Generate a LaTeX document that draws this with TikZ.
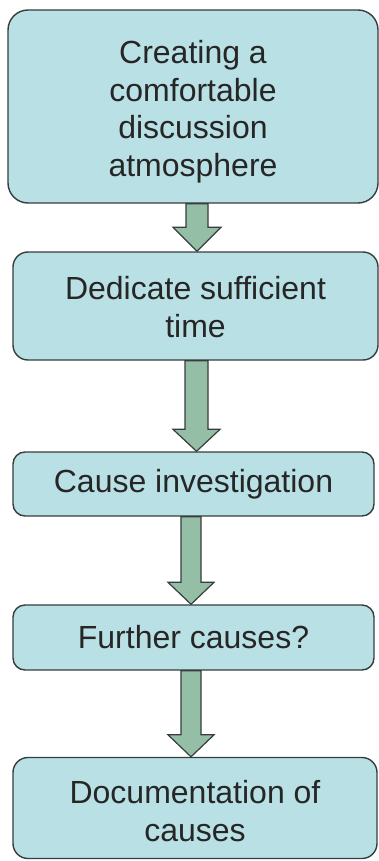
\documentclass[tikz,border=0pt]{standalone}
\usepackage{fontspec}
\setmainfont{Liberation Sans}
\usetikzlibrary{calc}
\definecolor{boxfill}{RGB}{185,224,228}
\definecolor{arrfill}{RGB}{148,190,166}
\definecolor{edge}{RGB}{55,60,60}
\tikzset{
  stepbox/.style={draw=edge, line width=1.4pt, fill=boxfill, rectangle, inner sep=0pt},
  steptext/.style={align=center, inner sep=0pt, font=\fontsize{32}{37.5}\selectfont, text=black!85},
  barrow/.style={draw=edge, line width=1.2pt, fill=arrfill, line join=miter}
}
\newcommand{\blockarrow}[6]{% from, to, x center, shaft half, head half, head length
  \draw[barrow] let \p1=(#1.south), \p2=(#2.north) in
    ({#3pt-#4pt},\y1) -- ({#3pt+#4pt},\y1) -- ({#3pt+#4pt},{\y2+#6pt}) --
    ({#3pt+#5pt},{\y2+#6pt}) -- ({#3pt},\y2) -- ({#3pt-#5pt},{\y2+#6pt}) --
    ({#3pt-#4pt},{\y2+#6pt}) -- cycle;}
\begin{document}
\begin{tikzpicture}[x=1pt,y=1pt]
\useasboundingbox (0,0) rectangle (379,-861);
\node[stepbox, minimum width=370pt, minimum height=193pt, rounded corners=20pt] (b1) at (193,-106.5) {};
\node[steptext] (t1) at ($(b1.center)+(0,-5)$) {Creating a\\comfortable\\discussion\\atmosphere};
\node[stepbox, minimum width=365pt, minimum height=108pt, rounded corners=15pt] (b2) at (195.5,-306) {};
\node[steptext] (t2) at ($(b2.center)+(0,-1)$) {Dedicate sufficient\\[1pt]time};
\node[stepbox, minimum width=361pt, minimum height=64pt, rounded corners=12pt] (b3) at (193.5,-484) {};
\node[steptext] (t3) at (b3.center) {Cause investigation};
\node[stepbox, minimum width=361pt, minimum height=65pt, rounded corners=12pt] (b4) at (193.5,-637.5) {};
\node[steptext] (t4) at (b4.center) {Further causes?};
\node[stepbox, minimum width=364pt, minimum height=101pt, rounded corners=15pt] (b5) at (195,-808) {};
\node[steptext] (t5) at ($(b5.center)+(0,-3)$) {Documentation of\\causes};
\blockarrow{b1}{b2}{197}{11}{24}{24}
\blockarrow{b2}{b3}{196.5}{11.5}{23.5}{22}
\blockarrow{b3}{b4}{191}{10}{23}{22}
\blockarrow{b4}{b5}{191}{10}{23}{22}
\end{tikzpicture}
\end{document}
